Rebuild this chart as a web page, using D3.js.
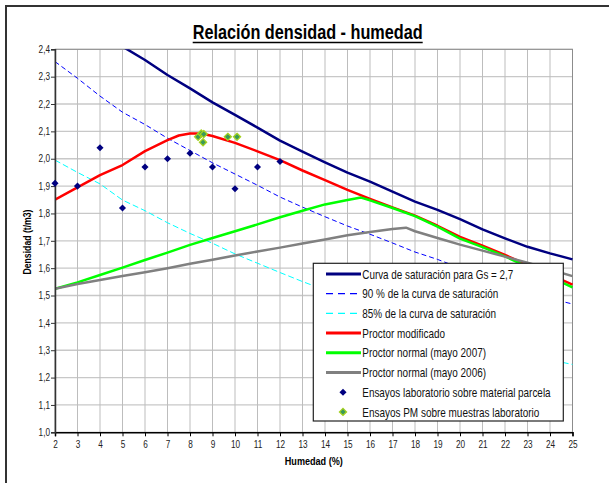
<!DOCTYPE html>
<html>
<head>
<meta charset="utf-8">
<script src="https://cdn.jsdelivr.net/npm/d3@7"></script>
<style>
  html, body { margin: 0; padding: 0; background: #fff; }
  svg { display: block; }
  text { font-family: "Liberation Sans", Arial, sans-serif; }
</style>
</head>
<body>
<svg id="chart" width="609" height="483"></svg>
<script>
// ---------------- DATA ----------------
const moisture = [2,3,4,5,6,7,8,9,10,11,12,13,14,15,16,17,18,19,20,21,22,23,24,25];
const saturation = [2.617,2.549,2.477,2.410,2.361,2.306,2.257,2.206,2.160,2.114,2.066,2.026,1.987,1.949,1.916,1.880,1.843,1.813,1.779,1.742,1.709,1.678,1.654,1.632];
const sat90 = [2.355,2.294,2.229,2.170,2.125,2.075,2.030,1.985,1.944,1.903,1.860,1.823,1.788,1.754,1.724,1.692,1.659,1.632,1.601,1.568,1.538,1.510,1.489,1.469];
const sat85 = [1.995,1.950,1.908,1.849,1.810,1.766,1.727,1.691,1.652,1.618,1.584,1.551,1.520,1.491,1.466,1.438,1.410,1.387,1.361,1.333,1.307,1.284,1.265,1.248];

const modX = [2,3,4,5,6,7,7.5,8,8.5,9,10,11,12,13,14,15,16,17,18,19,20,21,22,23,24,25];
const modY = [1.850,1.895,1.940,1.977,2.028,2.068,2.085,2.092,2.092,2.083,2.058,2.027,1.995,1.957,1.922,1.886,1.853,1.822,1.792,1.755,1.714,1.682,1.648,1.612,1.576,1.540];

const n2007X = [2,3,4,5,6,7,8,9,10,11,12,13,14,15,15.6,16,17,18,19,20,21,22,23,24,25];
const n2007Y = [1.525,1.548,1.575,1.602,1.630,1.657,1.685,1.710,1.735,1.760,1.786,1.810,1.833,1.849,1.858,1.848,1.820,1.790,1.752,1.708,1.677,1.643,1.605,1.568,1.530];

const n2006X = [2,3,4,5,6,7,8,9,10,11,12,13,14,15,16,17,17.6,18,19,20,21,22,23,24,25];
const n2006Y = [1.525,1.542,1.557,1.571,1.585,1.600,1.616,1.631,1.646,1.661,1.675,1.690,1.705,1.720,1.732,1.743,1.748,1.735,1.710,1.686,1.664,1.642,1.620,1.595,1.571];

const labX = [2,3,4,5,6,7,8,9,10,11,12];
const labY = [1.91,1.90,2.04,1.82,1.97,2.00,2.02,1.97,1.89,1.97,1.99];

const pmX = [8.36,8.50,8.61,8.58,9.68,10.09];
const pmY = [2.080,2.092,2.090,2.060,2.080,2.080];

const xTicks = [2,3,4,5,6,7,8,9,10,11,12,13,14,15,16,17,18,19,20,21,22,23,24,25];
const yTicks = [1.0,1.1,1.2,1.3,1.4,1.5,1.6,1.7,1.8,1.9,2.0,2.1,2.2,2.3,2.4];

const legendLabels = [
  "Curva de saturación para Gs = 2,7",
  "90 % de la curva de saturación",
  "85% de la curva de saturación",
  "Proctor modificado",
  "Proctor normal (mayo 2007)",
  "Proctor normal (mayo 2006)",
  "Ensayos laboratorio sobre material parcela",
  "Ensayos PM sobre muestras laboratorio"
];
const titleText = "Relación densidad - humedad";
const xTitle = "Humedad (%)";
const yTitle = "Densidad (t/m3)";

// ---------------- LAYOUT ----------------
const svg = d3.select("#chart");
const P = { left: 55, right: 572.5, top: 49.3, bottom: 432.3 };
const x = d3.scaleLinear().domain([2, 25]).range([P.left, P.right]);
const y = d3.scaleLinear().domain([1.0, 2.4]).range([P.bottom, P.top]);
const commaFmt = d3.formatLocale({decimal: ",", thousands: ".", grouping: [3], currency: ["", "€"]}).format(".1f");

// condense text horizontally (narrow-font look)
function condense(sel, target) {
  sel.each(function () {
    const w = this.getComputedTextLength();
    const t = typeof target === "number" ? target : w * target.factor;
    d3.select(this).attr("textLength", t).attr("lengthAdjust", "spacingAndGlyphs");
  });
}

// outer border (left & top visible)
svg.append("path").attr("d", "M6,483 L6,6 L609,6").attr("fill", "none")
  .attr("stroke", "#333").attr("stroke-width", 2);

// title
const title = svg.append("text").attr("x", 307.7).attr("y", 39)
  .attr("text-anchor", "middle").attr("font-weight", "bold").attr("font-size", 20)
  .attr("fill", "#000").text(titleText);
condense(title, 230);
svg.append("line").attr("x1", 307.7 - 115).attr("x2", 307.7 + 115).attr("y1", 42.5).attr("y2", 42.5)
  .attr("stroke", "#000").attr("stroke-width", 1.5);

// gridlines
const grid = svg.append("g");
grid.selectAll("line.h").data(yTicks.slice(1)).join("line")
  .attr("x1", P.left).attr("x2", P.right).attr("y1", d => y(d)).attr("y2", d => y(d))
  .attr("stroke", "#c8c8c8").attr("stroke-width", 1.3);
grid.selectAll("line.v").data(xTicks.slice(1)).join("line")
  .attr("y1", P.top).attr("y2", P.bottom).attr("x1", d => x(d)).attr("x2", d => x(d))
  .attr("stroke", "#bdbdbd").attr("stroke-width", 1);
svg.append("rect").attr("x", P.left).attr("y", P.top).attr("width", P.right - P.left).attr("height", P.bottom - P.top)
  .attr("fill", "none").attr("stroke", "#8c8c8c").attr("stroke-width", 1);

// clip
svg.append("defs").append("clipPath").attr("id", "clip").append("rect")
  .attr("x", P.left).attr("y", P.top).attr("width", P.right - P.left + 2.5).attr("height", P.bottom - P.top);
const plot = svg.append("g").attr("clip-path", "url(#clip)");

const line = d3.line().x(d => x(d[0])).y(d => y(d[1]));
const zip = (xs, ys) => xs.map((v, i) => [v, ys[i]]);

const series = [
  { pts: zip(moisture, saturation), color: "#000080", width: 2.5, dash: null },
  { pts: zip(moisture, sat90), color: "#0000ff", width: 1, dash: "5,3" },
  { pts: zip(moisture, sat85), color: "#00ffff", width: 1, dash: "6,3" },
  { pts: zip(modX, modY), color: "#ff0000", width: 2.5, dash: null },
  { pts: zip(n2007X, n2007Y), color: "#00ff00", width: 2.5, dash: null },
  { pts: zip(n2006X, n2006Y), color: "#808080", width: 2.5, dash: null }
];
series.forEach(s => {
  plot.append("path").attr("d", line(s.pts)).attr("fill", "none")
    .attr("stroke", s.color).attr("stroke-width", s.width)
    .attr("stroke-dasharray", s.dash).attr("stroke-linejoin", "round");
});

// axes
const xAxis = d3.axisBottom(x).tickValues(xTicks).tickSize(4).tickFormat(d3.format("d"));
const gx = svg.append("g").attr("transform", `translate(0,${P.bottom})`).call(xAxis);
gx.attr("font-family", null);
gx.select(".domain").attr("stroke", "#000").attr("stroke-width", 1.5);
gx.selectAll(".tick line").attr("stroke", "#000");
gx.selectAll(".tick text").attr("font-size", 10).attr("fill", "#222").attr("dy", "0.9em");
condense(gx.selectAll(".tick text"), { factor: 0.82 });

const yAxis = d3.axisLeft(y).tickValues(yTicks).tickSize(4).tickFormat(commaFmt);
const gy = svg.append("g").attr("transform", `translate(${P.left},0)`).call(yAxis);
gy.attr("font-family", null);
gy.select(".domain").attr("stroke", "#333").attr("stroke-width", 1.5);
gy.selectAll(".tick line").attr("stroke", "#333");
gy.selectAll(".tick text").attr("font-size", 10).attr("fill", "#222").attr("x", -5);
condense(gy.selectAll(".tick text"), { factor: 0.82 });

// markers (not clipped)
const diamond = d3.symbol().type(d3.symbolDiamond2).size(32);
svg.selectAll("path.lab").data(zip(labX, labY)).join("path").attr("class", "lab")
  .attr("transform", d => `translate(${x(d[0])},${y(d[1])})`)
  .attr("d", diamond).attr("fill", "#000080");
svg.selectAll("path.pm").data(zip(pmX, pmY)).join("path").attr("class", "pm")
  .attr("transform", d => `translate(${x(d[0])},${y(d[1])})`)
  .attr("d", diamond).attr("fill", "#3a9a5a").attr("stroke", "#a6d21e").attr("stroke-width", 1.3);

// axis titles
const xt = svg.append("text").attr("x", 313.8).attr("y", 465).attr("text-anchor", "middle")
  .attr("font-weight", "bold").attr("font-size", 11).text(xTitle);
condense(xt, 58);
const yt = svg.append("text").attr("transform", "translate(31,242) rotate(-90)").attr("text-anchor", "middle")
  .attr("font-weight", "bold").attr("font-size", 11).text(yTitle);
condense(yt, 65);

// legend
const L = { x: 313.3, y: 263.3, w: 250, h: 157.7, row0: 274, step: 19.7 };
const legendWidths = [151, 136, 133.7, 82.7, 123.7, 123.7, 188.3, 177];
const lg = svg.append("g");
lg.append("rect").attr("x", L.x).attr("y", L.y).attr("width", L.w).attr("height", L.h)
  .attr("fill", "#fff").attr("stroke", "#222").attr("stroke-width", 1.2);
const legendDash = [null, "7,5", "7,5", null, null, null];
legendLabels.forEach((lab, i) => {
  const cy = L.row0 + i * L.step;
  if (i < 6) {
    lg.append("line").attr("x1", 326).attr("x2", 361).attr("y1", cy).attr("y2", cy)
      .attr("stroke", series[i].color).attr("stroke-width", series[i].width === 1 ? 1.2 : 3)
      .attr("stroke-dasharray", legendDash[i]);
  } else if (i === 6) {
    lg.append("path").attr("transform", `translate(343,${cy})`).attr("d", diamond).attr("fill", "#000080");
  } else {
    lg.append("path").attr("transform", `translate(343,${cy})`).attr("d", diamond)
      .attr("fill", "#3a9a5a").attr("stroke", "#a6d21e").attr("stroke-width", 1.3);
  }
  const t = lg.append("text").attr("x", 362.3).attr("y", cy).attr("dy", "0.36em")
    .attr("font-size", 13).attr("fill", "#111").text(lab);
  condense(t, legendWidths[i]);
});
</script>
</body>
</html>
